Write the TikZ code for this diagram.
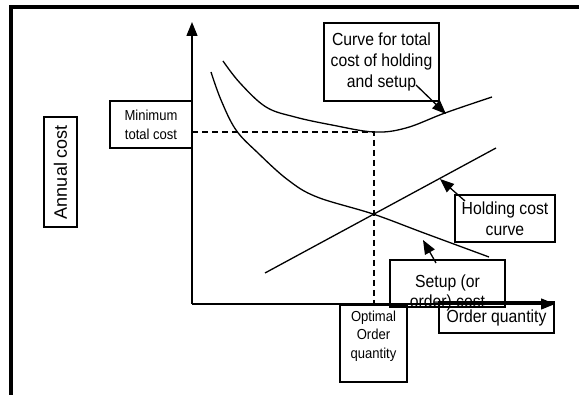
\documentclass[tikz,border=0pt]{standalone}
\usepackage{fontspec}
\setmainfont{Liberation Sans}
\newfontfamily\nf[FakeStretch=0.9]{Liberation Sans}
\newfontfamily\rf{Liberation Sans}
\usetikzlibrary{arrows.meta}
\begin{document}
\begin{tikzpicture}[x=1pt,y=-1pt,
  box/.style={draw,line width=1.5pt,rectangle,inner sep=0pt,align=center},
  big/.style={font=\nf\fontsize{17.5}{20.7}\selectfont},
  small/.style={font=\nf\fontsize{14.5}{19}\selectfont},
  tiny/.style={font=\nf\fontsize{14.5}{18.7}\selectfont},
  curve/.style={line width=1.3pt},
  axis/.style={line width=1.4pt,-{Triangle[length=14pt,width=11pt]}},
  pointer/.style={line width=1.3pt,-{Triangle[length=14pt,width=11pt]}},
  guide/.style={line width=1.1pt,dash pattern=on 6pt off 4pt}]
\useasboundingbox (0,0) rectangle (579,395);
% frame
\draw[line width=3.5pt] (11,397) -- (11,7) -- (581,7);
% boxes
\node[box,big,minimum width=115pt,minimum height=78pt] (curvebox) at (381.5,62) {Curve for total\\cost of holding\\and setup};
\node[box,small,minimum width=82pt,minimum height=47pt] (mintc) at (151,124.5) {Minimum\\total cost};
\node[box,big,minimum width=100pt,minimum height=47pt] (holdbox) at (505,218.5) {Holding cost\\curve};
\node[box,big,minimum width=115pt,minimum height=47pt,text depth=0pt] (setupbox) at (447.5,283.5) {\raisebox{-3pt}{\begin{tabular}{@{}c@{}}Setup (or\\[-0.5pt]order) cost\end{tabular}}};
\node[box,big,minimum width=115pt,minimum height=31pt] (orderq) at (496.5,317.5) {Order quantity};
\node[box,minimum width=67pt,minimum height=77pt] (optbox) at (373.5,343.5) {};
\node[tiny,align=center] (opttext) at (373.5,336) {Optimal\\Order\\quantity};
\node[box,rotate=90,font=\rf\fontsize{18}{20}\selectfont,minimum width=110pt,minimum height=33pt] (annual) at (60.5,172) {Annual cost};
% axes
\coordinate (O) at (192,304);
\coordinate (ytop) at (192,22);
\coordinate (xend) at (555,304);
\draw[axis] (O) -- (ytop);
\draw[axis] (O) -- (xend);
% guides
\coordinate (ymin) at (192,132);
\coordinate (cmin) at (374,132);
\coordinate (qopt) at (374,304);
\draw[guide] (ymin) -- (cmin) -- (qopt);
% total cost curve
\draw[curve] plot[smooth,tension=0.6] coordinates {(223,61) (240,83) (266,107) (295,117) (332,125) (374,132) (406,128) (445,113) (492,97)};
% setup cost curve
\draw[curve] plot[smooth,tension=0.6] coordinates {(211,72) (221,100) (236,130) (258,153) (288,180) (317,197) (373,214) (424,233) (489,257)};
% holding cost line
\coordinate (h1) at (265,273);
\coordinate (h2) at (496,148);
\draw[curve] (h1) -- (h2);
% pointers
\coordinate (tA) at (416,85);
\coordinate (hA) at (446,114);
\draw[pointer] (tA) -- (hA);
\coordinate (tB) at (465,201);
\coordinate (hB) at (440,179);
\draw[pointer] (tB) -- (hB);
\coordinate (tC) at (436,263);
\coordinate (hC) at (423,240);
\draw[pointer] (tC) -- (hC);
\end{tikzpicture}
\end{document}
